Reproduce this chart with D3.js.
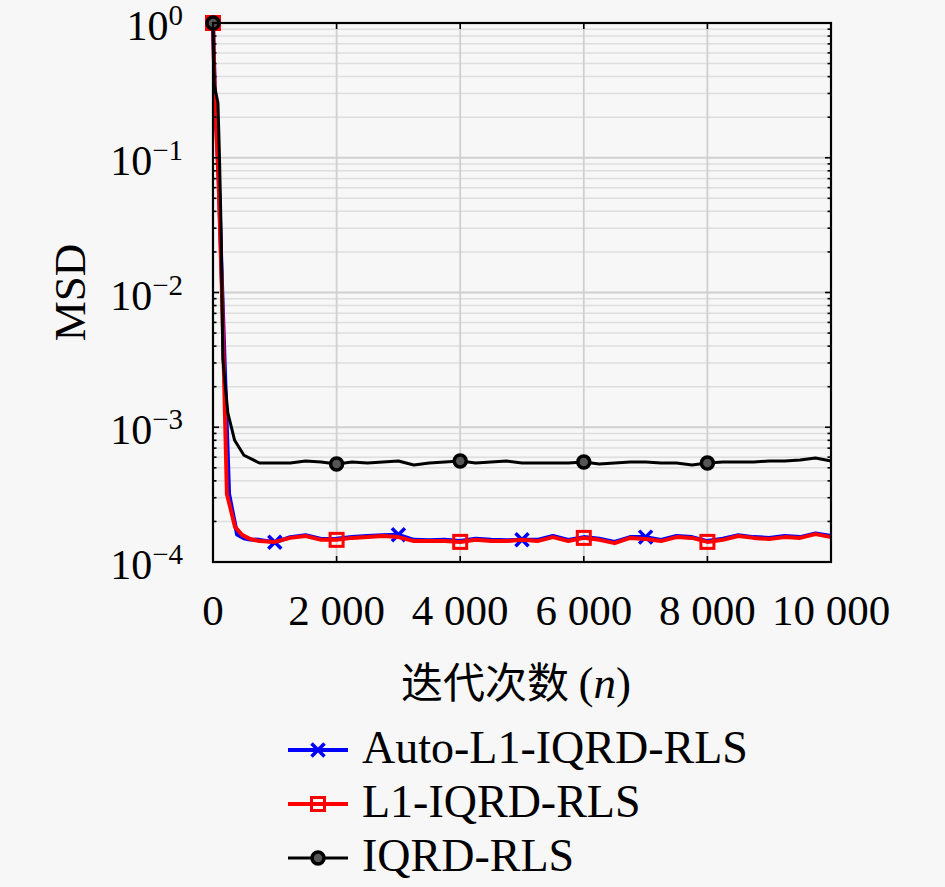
<!DOCTYPE html>
<html lang="zh">
<head>
<meta charset="UTF-8">
<title>MSD</title>
<script src="https://d3js.org/d3.v7.min.js"></script>
<style>
  html, body { margin: 0; padding: 0; background: #f7f7f7; }
  svg { display: block; }
  text { font-family: "Liberation Serif", "DejaVu Serif", serif; fill: #000; }
  .cjk { font-family: "Noto Sans CJK SC", sans-serif; }
</style>
</head>
<body>
<svg id="chart"></svg>
<script>
// ---- data ----
const xTicks = [0, 2000, 4000, 6000, 8000, 10000];
const xTickLabels = ["0", "2 000", "4 000", "6 000", "8 000", "10 000"];
const yExps = [0, -1, -2, -3, -4];

const tailN = d3.range(750, 10001, 250);

// Auto-L1-IQRD-RLS
const autoHeadN = [0, 30, 90, 150, 260, 390, 500, 600];
const autoHead = [1, 0.3, 0.075, 0.01, 3.2e-4, 1.6e-4, 1.5e-4, 1.47e-4];
const autoTail = [1.46,1.40,1.53,1.58,1.48,1.49,1.53,1.56,1.58,1.59,1.46,1.45,1.46,1.43,1.49,1.46,1.45,1.46,1.46,1.56,
                  1.46,1.53,1.49,1.41,1.53,1.53,1.46,1.56,1.53,1.43,1.49,1.58,1.53,1.51,1.56,1.53,1.63,1.56]; // x1e-4

// L1-IQRD-RLS
const l1HeadN = [0, 30, 90, 145, 225, 356, 470, 600];
const l1Head = [1, 0.28, 0.068, 0.01, 3.2e-4, 1.82e-4, 1.59e-4, 1.48e-4];
const l1Tail = [1.43,1.41,1.51,1.56,1.46,1.46,1.51,1.53,1.56,1.53,1.43,1.43,1.43,1.41,1.46,1.43,1.43,1.46,1.43,1.53,
                1.43,1.51,1.46,1.38,1.51,1.48,1.43,1.53,1.51,1.41,1.46,1.56,1.51,1.48,1.53,1.51,1.61,1.53]; // x1e-4

// IQRD-RLS
const iqrdHeadN = [0, 20, 80, 105, 130, 160, 240, 350, 500];
const iqrdHead = [1, 0.35, 0.255, 0.1, 0.0306, 3.2e-3, 1.28e-3, 8.0e-4, 6.2e-4];
const iqrdTail = [5.43,5.43,5.43,5.62,5.52,5.34,5.52,5.43,5.52,5.62,5.25,5.43,5.52,5.62,5.43,5.52,5.62,5.43,5.43,5.43,
                  5.43,5.52,5.34,5.43,5.52,5.52,5.43,5.43,5.25,5.43,5.52,5.52,5.52,5.62,5.62,5.71,5.91,5.62]; // x1e-4

const autoMarkN = [0, 1000, 3000, 5000, 7000];
const l1MarkN = [0, 2000, 4000, 6000, 8000];
const iqrdMarkN = [0, 2000, 4000, 6000, 8000];

const seriesNames = ["Auto-L1-IQRD-RLS", "L1-IQRD-RLS", "IQRD-RLS"];

// ---- build point lists ----
function build(headN, head, tail) {
  const pts = headN.map((n, i) => ({ n: n, v: head[i] }));
  tailN.forEach((n, i) => pts.push({ n: n, v: tail[i] * 1e-4 }));
  return pts;
}
const series = [
  { name: seriesNames[0], color: "#0000ff", width: 4, marker: "x",      pts: build(autoHeadN, autoHead, autoTail), marks: autoMarkN },
  { name: seriesNames[1], color: "#ff0000", width: 4, marker: "square", pts: build(l1HeadN, l1Head, l1Tail),       marks: l1MarkN },
  { name: seriesNames[2], color: "#000000", width: 3, marker: "circle", pts: build(iqrdHeadN, iqrdHead, iqrdTail), marks: iqrdMarkN }
];

// ---- layout ----
const W = 945, H = 887;
const margin = { top: 23, left: 213, right: 114, bottom: 325 };
const width = W - margin.left - margin.right;   // 618
const height = H - margin.top - margin.bottom;  // 539

const svg = d3.select("#chart").attr("width", W).attr("height", H);
svg.append("rect").attr("width", W).attr("height", H).attr("fill", "#f7f7f7");

const g = svg.append("g").attr("transform", `translate(${margin.left},${margin.top})`);

const x = d3.scaleLinear().domain([0, 10000]).range([0, width]);
const y = d3.scaleLog().domain([1e-4, 1]).range([height, 0]);

// grid
const minorVals = [];
for (let e = -4; e < 0; e++) for (let k = 2; k <= 9; k++) minorVals.push(k * Math.pow(10, e));

g.append("g").selectAll("line").data(minorVals).join("line")
  .attr("x1", 0).attr("x2", width)
  .attr("y1", d => y(d)).attr("y2", d => y(d))
  .attr("stroke", "#dedede").attr("stroke-width", 1.5);

g.append("g").selectAll("line").data(yExps.map(e => Math.pow(10, e))).join("line")
  .attr("x1", 0).attr("x2", width)
  .attr("y1", d => y(d)).attr("y2", d => y(d))
  .attr("stroke", "#d0d0d0").attr("stroke-width", 1.8);

g.append("g").selectAll("line").data(xTicks).join("line")
  .attr("x1", d => x(d)).attr("x2", d => x(d))
  .attr("y1", 0).attr("y2", height)
  .attr("stroke", "#d0d0d0").attr("stroke-width", 1.8);

// lines
const line = d3.line().x(d => x(d.n)).y(d => y(d.v));

function valueAt(pts, n) {
  const i = pts.findIndex(p => p.n === n);
  return pts[i].v;
}

function drawMarker(sel, type, color) {
  if (type === "x") {
    const s = 6.5;
    sel.append("path").attr("d", `M${-s},${-s}L${s},${s}M${-s},${s}L${s},${-s}`)
      .attr("stroke", color).attr("stroke-width", 3.5).attr("fill", "none");
  } else if (type === "square") {
    sel.append("rect").attr("x", -6.5).attr("y", -6.5).attr("width", 13).attr("height", 13)
      .attr("stroke", color).attr("stroke-width", 3).attr("fill", "none");
  } else {
    sel.append("circle").attr("r", 6)
      .attr("stroke", color).attr("stroke-width", 3.5).attr("fill", "#555");
  }
}

series.forEach(s => {
  g.append("path").datum(s.pts)
    .attr("d", line)
    .attr("fill", "none")
    .attr("stroke", s.color)
    .attr("stroke-width", s.width)
    .attr("stroke-linejoin", "round");
  s.marks.forEach(n => {
    const m = g.append("g").attr("transform", `translate(${x(n)},${y(valueAt(s.pts, n))})`);
    drawMarker(m, s.marker, s.color);
  });
});

// axes box with inside ticks
g.append("rect").attr("width", width).attr("height", height)
  .attr("fill", "none").attr("stroke", "#000").attr("stroke-width", 2.2);

const tickG = g.append("g").attr("stroke", "#000").attr("stroke-width", 1.6);
xTicks.forEach(t => {
  tickG.append("line").attr("x1", x(t)).attr("x2", x(t)).attr("y1", height).attr("y2", height - 6);
  tickG.append("line").attr("x1", x(t)).attr("x2", x(t)).attr("y1", 0).attr("y2", 6);
});
yExps.forEach(e => {
  const yy = y(Math.pow(10, e));
  tickG.append("line").attr("x1", 0).attr("x2", 6).attr("y1", yy).attr("y2", yy);
  tickG.append("line").attr("x1", width).attr("x2", width - 6).attr("y1", yy).attr("y2", yy);
});
minorVals.forEach(v => {
  tickG.append("line").attr("x1", 0).attr("x2", 3.5).attr("y1", y(v)).attr("y2", y(v));
  tickG.append("line").attr("x1", width).attr("x2", width - 3.5).attr("y1", y(v)).attr("y2", y(v));
});

// tick labels
g.append("g").selectAll("text").data(xTicks).join("text")
  .attr("x", d => x(d)).attr("y", height + 63)
  .attr("text-anchor", "middle")
  .attr("font-size", 43)
  .text((d, i) => xTickLabels[i]);

const yl = g.append("g").selectAll("text").data(yExps).join("text")
  .attr("x", -30).attr("y", d => y(Math.pow(10, d)) + 17)
  .attr("text-anchor", "end")
  .attr("font-size", 42);
yl.append("tspan").text("10");
yl.append("tspan").attr("font-size", 29).attr("dy", -15)
  .text(d => d === 0 ? "0" : "\u2212" + (-d));

// axis titles
svg.append("text")
  .attr("transform", `translate(85,${margin.top + height / 2}) rotate(-90)`)
  .attr("text-anchor", "middle").attr("font-size", 45)
  .text("MSD");

const xt = svg.append("text")
  .attr("x", margin.left + width / 2 - 6).attr("y", 698)
  .attr("text-anchor", "middle").attr("font-size", 45);
xt.append("tspan").attr("class", "cjk").attr("font-size", 42).text("迭代次数 ");
xt.append("tspan").text("(");
xt.append("tspan").attr("font-style", "italic").text("n");
xt.append("tspan").text(")");

// legend
const legend = svg.append("g");
series.forEach((s, i) => {
  const cy = 750 + i * 54;
  const row = legend.append("g").attr("transform", `translate(0,${cy})`);
  row.append("line").attr("x1", 288).attr("x2", 348).attr("y1", 0).attr("y2", 0)
    .attr("stroke", s.color).attr("stroke-width", s.width);
  drawMarker(row.append("g").attr("transform", "translate(318,0)"), s.marker, s.color);
  row.append("text").attr("x", 362).attr("y", 13)
    .attr("font-size", 46).text(s.name);
});
</script>
</body>
</html>
